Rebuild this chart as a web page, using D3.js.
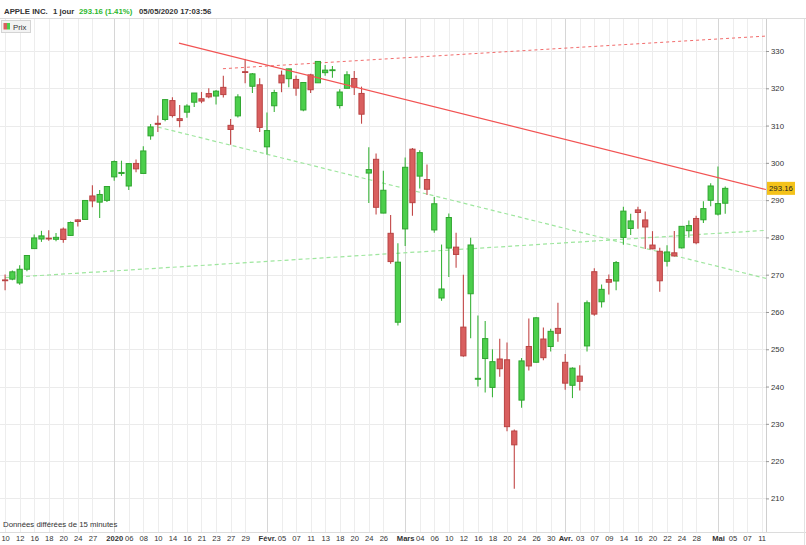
<!DOCTYPE html>
<html><head><meta charset="utf-8">
<script src="https://cdn.jsdelivr.net/npm/d3@7"></script>
<style>body{margin:0;background:#fff}svg{display:block;font-family:"Liberation Sans",Arial,sans-serif}</style>
</head><body><svg id="c" width="806" height="545"></svg>
<script>
// Trading days (last four are future, empty slots)
const dates = [
"2019-12-10","2019-12-11","2019-12-12","2019-12-13","2019-12-16","2019-12-17","2019-12-18","2019-12-19","2019-12-20","2019-12-23","2019-12-24","2019-12-26","2019-12-27","2019-12-30","2019-12-31",
"2020-01-02","2020-01-03","2020-01-06","2020-01-07","2020-01-08","2020-01-09","2020-01-10","2020-01-13","2020-01-14","2020-01-15","2020-01-16","2020-01-17","2020-01-21","2020-01-22","2020-01-23","2020-01-24","2020-01-27","2020-01-28","2020-01-29","2020-01-30","2020-01-31",
"2020-02-03","2020-02-04","2020-02-05","2020-02-06","2020-02-07","2020-02-10","2020-02-11","2020-02-12","2020-02-13","2020-02-14","2020-02-18","2020-02-19","2020-02-20","2020-02-21","2020-02-24","2020-02-25","2020-02-26","2020-02-27","2020-02-28",
"2020-03-02","2020-03-03","2020-03-04","2020-03-05","2020-03-06","2020-03-09","2020-03-10","2020-03-11","2020-03-12","2020-03-13","2020-03-16","2020-03-17","2020-03-18","2020-03-19","2020-03-20","2020-03-23","2020-03-24","2020-03-25","2020-03-26","2020-03-27","2020-03-30","2020-03-31",
"2020-04-01","2020-04-02","2020-04-03","2020-04-06","2020-04-07","2020-04-08","2020-04-09","2020-04-13","2020-04-14","2020-04-15","2020-04-16","2020-04-17","2020-04-20","2020-04-21","2020-04-22","2020-04-23","2020-04-24","2020-04-27","2020-04-28","2020-04-29","2020-04-30",
"2020-05-01","2020-05-04","2020-05-05","2020-05-06","2020-05-07","2020-05-08","2020-05-11"];

const openP = [268.60,268.81,267.78,271.46,277.00,279.57,279.80,279.50,282.23,280.53,284.69,284.82,291.12,289.46,289.93,
296.24,297.15,293.79,299.84,297.16,307.24,310.60,311.64,316.70,311.85,313.59,316.27,317.19,318.58,317.92,320.25,310.06,312.60,324.45,320.54,320.93,
304.30,315.31,323.52,322.57,322.37,314.18,323.60,321.47,324.19,324.74,315.36,320.00,322.63,318.62,297.26,300.95,286.53,281.10,257.26,
282.28,303.67,296.44,295.52,282.00,263.75,277.14,277.39,255.94,264.89,241.95,247.51,239.77,247.39,247.18,228.08,236.36,250.75,246.52,252.75,250.74,255.60,
246.50,240.34,242.80,250.90,270.80,262.74,268.70,268.31,280.00,282.40,287.38,284.69,277.95,276.28,273.61,275.87,277.20,281.80,285.08,284.73,289.96,
286.25,289.17];
const highP = [270.07,271.10,272.56,275.30,280.79,281.77,281.90,281.18,282.65,284.25,284.89,289.98,293.97,292.69,293.68,
300.60,300.58,299.96,300.90,304.44,310.43,312.67,317.07,317.57,315.50,315.70,318.74,319.02,319.99,319.56,323.33,311.77,318.40,327.85,324.09,322.68,
313.49,319.64,324.76,325.22,323.40,321.55,323.90,327.22,326.22,325.98,319.75,324.57,324.65,320.45,304.18,302.53,297.88,286.00,278.41,
301.44,304.00,303.40,299.55,290.82,278.09,286.44,281.22,270.00,279.92,259.08,257.61,250.00,252.84,251.83,228.50,247.69,258.25,258.68,255.87,255.52,262.49,
248.72,245.15,245.70,263.11,271.70,267.37,270.07,273.70,288.25,286.33,288.20,286.95,281.68,277.25,277.90,281.75,283.01,284.54,285.83,289.67,294.53,
299.00,293.69];
const lowP = [265.86,268.50,267.32,270.93,276.98,278.80,279.12,278.95,278.56,280.37,282.92,284.70,288.12,285.22,289.52,
295.19,296.50,292.75,297.48,297.16,306.20,308.25,311.15,312.17,309.55,312.09,315.00,316.00,317.31,315.65,317.52,304.88,312.19,321.38,318.75,308.29,
302.22,313.63,318.95,320.26,318.00,313.85,318.71,321.47,323.35,322.85,314.61,320.00,318.21,310.50,289.23,286.13,286.50,272.96,256.37,
277.72,285.80,293.13,291.41,281.23,263.00,269.37,271.86,248.00,252.95,240.00,238.40,237.12,242.61,228.00,212.61,234.30,244.30,246.36,247.05,249.40,252.00,
239.13,236.90,238.97,249.38,259.00,261.23,264.70,265.83,278.05,280.63,282.35,276.86,276.85,265.43,272.20,274.87,277.00,279.95,278.20,283.89,288.35,
285.85,286.32];
const closeP = [268.48,270.77,271.46,275.15,279.86,280.41,279.74,280.02,279.44,284.00,284.27,289.91,289.80,291.52,293.65,
300.35,297.43,299.80,298.39,303.19,309.63,310.33,316.96,312.68,311.34,315.24,318.73,316.57,317.70,319.23,318.31,308.95,317.69,324.34,323.87,309.51,
308.66,318.85,321.45,325.21,320.03,321.55,319.61,327.20,324.87,324.95,319.00,323.62,320.30,313.05,298.18,288.08,292.65,273.52,273.36,
298.81,289.32,302.74,292.92,289.03,266.17,285.34,275.43,248.23,277.97,242.21,252.86,246.67,244.78,229.24,224.37,246.88,245.52,258.44,247.74,254.81,254.29,
240.91,244.93,241.41,262.47,259.43,266.07,267.99,273.25,287.05,284.43,286.69,282.80,276.93,268.37,276.10,275.03,282.97,283.17,278.58,287.73,293.80,
289.07,293.16];

const yTicks = [210,220,230,240,250,260,270,280,290,300,310,320,330];
const tickDates = ["2019-12-10","2019-12-12","2019-12-16","2019-12-18","2019-12-20","2019-12-24","2019-12-27","2020-01-02","2020-01-06","2020-01-08","2020-01-10","2020-01-14","2020-01-16","2020-01-21","2020-01-23","2020-01-27","2020-01-29",
"2020-02-03","2020-02-05","2020-02-07","2020-02-11","2020-02-13","2020-02-18","2020-02-20","2020-02-24","2020-02-26",
"2020-03-02","2020-03-04","2020-03-06","2020-03-10","2020-03-12","2020-03-16","2020-03-18","2020-03-20","2020-03-24","2020-03-26","2020-03-30",
"2020-04-01","2020-04-03","2020-04-07","2020-04-09","2020-04-14","2020-04-16","2020-04-20","2020-04-22","2020-04-24","2020-04-28",
"2020-05-01","2020-05-05","2020-05-07","2020-05-11"];
const tickTexts = ["10","12","16","18","20","24","27","2020","06","08","10","14","16","21","23","27","29",
"Févr.","05","07","11","13","18","20","24","26",
"Mars","04","06","10","12","16","18","20","24","26","30",
"Avr.","03","07","09","14","16","20","22","24","28",
"Mai","05","07","11"];
const monthTicks = ["2020-01-02","2020-02-03","2020-03-02","2020-04-01","2020-05-01"];

// trend lines: [trading-day index, price]
const resistance = [[23.9,332.1],[104.6,292.85]];
const resistanceDash = [[29.95,325.25],[104.6,334.0]];
const supportUp = [[0,269.2],[104.6,281.9]];
const supportDown = [[21.0,309.6],[104.6,269.0]];

const lastPrice = 293.16;

const svg = d3.select("#c");
const font = '"Liberation Sans",Arial,sans-serif';
const P = {left:0,right:766,top:19,bottom:532};

const x = d3.scalePoint().domain(dates).range([5.1,761.6]);
const xi = d3.scaleLinear().domain([0,dates.length-1]).range([5.1,761.6]);
const y = d3.scaleLinear().domain([210,330]).range([498.4,51]);

svg.append("defs").append("clipPath").attr("id","clip")
  .append("rect").attr("x",P.left).attr("y",P.top).attr("width",P.right-P.left).attr("height",P.bottom-P.top);

// header
svg.append("rect").attr("x",0).attr("y",0).attr("width",806).attr("height",545).attr("fill","#fff");
svg.append("line").attr("x1",0).attr("x2",806).attr("y1",18.5).attr("y2",18.5).attr("stroke","#dcdcdc");
const hdr = svg.append("g").attr("font-family",font).attr("font-size",7.8).attr("font-weight","bold");
hdr.append("text").attr("x",4).attr("y",14).attr("fill","#333").text("APPLE INC.");
hdr.append("text").attr("x",53).attr("y",14).attr("fill","#333").text("1 jour");
hdr.append("text").attr("x",79).attr("y",14).attr("fill","#2eb82e").text("293.16 (1.41%)");
hdr.append("text").attr("x",139).attr("y",14).attr("fill","#333").text("05/05/2020 17:03:56");

// grid
const grid = svg.append("g");
grid.selectAll("line.h").data(yTicks).join("line")
  .attr("x1",P.left).attr("x2",P.right).attr("y1",d=>Math.round(y(d))+0.5).attr("y2",d=>Math.round(y(d))+0.5)
  .attr("stroke","#ebebeb");
grid.selectAll("line.v").data(tickDates).join("line")
  .attr("x1",d=>Math.round(x(d))+0.5).attr("x2",d=>Math.round(x(d))+0.5).attr("y1",P.top).attr("y2",P.bottom)
  .attr("stroke",d=>monthTicks.includes(d)?"#d6d6d6":"#ededed");

// trend lines
const g = svg.append("g").attr("clip-path","url(#clip)");
const ln = d3.line().x(d=>xi(d[0])).y(d=>y(d[1]));
g.append("path").attr("d",ln(supportUp)).attr("fill","none").attr("stroke","#9ee69e").attr("stroke-width",1.2).attr("stroke-dasharray","4,3");
g.append("path").attr("d",ln(supportDown)).attr("fill","none").attr("stroke","#9ee69e").attr("stroke-width",1.2).attr("stroke-dasharray","4,3");
g.append("path").attr("d",ln(resistanceDash)).attr("fill","none").attr("stroke","#f26b6b").attr("stroke-width",1).attr("stroke-dasharray","3,3");

// candles
const candles = dates.slice(0, closeP.length).map((d,i)=>({d,o:openP[i],h:highP[i],l:lowP[i],c:closeP[i]}));
const cg = g.selectAll("g.c").data(candles).join("g");
const up = d=>d.c>=d.o;
cg.append("line").attr("x1",d=>x(d.d)).attr("x2",d=>x(d.d)).attr("y1",d=>y(d.h)).attr("y2",d=>y(d.l))
  .attr("stroke",d=>up(d)?"#3cb43c":"#c24848").attr("stroke-width",1.1);
cg.append("rect").attr("x",d=>x(d.d)-2.6).attr("width",5.2)
  .attr("y",d=>y(Math.max(d.o,d.c))).attr("height",d=>Math.max(0.8,Math.abs(y(d.o)-y(d.c))))
  .attr("fill",d=>up(d)?"#4ccf4c":"#d95f5f").attr("stroke",d=>up(d)?"#2fa52f":"#b94343").attr("stroke-width",1);

g.append("path").attr("d",ln(resistance)).attr("fill","none").attr("stroke","#f25252").attr("stroke-width",1.2);

// frame lines
svg.append("line").attr("x1",P.right+0.5).attr("x2",P.right+0.5).attr("y1",P.top).attr("y2",P.bottom).attr("stroke","#cfcfcf");
svg.append("line").attr("x1",0).attr("x2",806).attr("y1",P.bottom+0.5).attr("y2",P.bottom+0.5).attr("stroke","#dcdcdc");
svg.append("line").attr("x1",804.5).attr("x2",804.5).attr("y1",P.top).attr("y2",545).attr("stroke","#e2e2e2");

// y axis
const ya = svg.append("g").attr("transform",`translate(${P.right},0)`)
  .call(d3.axisRight(y).tickValues(yTicks).tickSize(3).tickPadding(2).tickFormat(d3.format("d")));
ya.select(".domain").remove();
ya.selectAll("line").attr("stroke","#999");
ya.selectAll("text").attr("font-family",font).attr("font-size",7.8).attr("fill","#333");

// x axis
const labelOf = new Map(tickDates.map((d,i)=>[d,tickTexts[i]]));
const xa = svg.append("g").attr("transform",`translate(0,${P.bottom})`)
  .call(d3.axisBottom(x).tickValues(tickDates).tickSize(0).tickPadding(4).tickFormat(d=>labelOf.get(d)));
xa.select(".domain").remove();
xa.selectAll("text").attr("font-family",font).attr("font-size",7.6).attr("fill","#333")
  .attr("font-weight",d=>monthTicks.includes(d)?"bold":"normal");

// last price label
const lp = svg.append("g");
lp.append("rect").attr("x",P.right+1).attr("y",y(lastPrice)-6.5).attr("width",28).attr("height",13).attr("fill","#f4c21a");
lp.append("text").attr("x",P.right+3).attr("y",y(lastPrice)+3).attr("font-family",font).attr("font-size",7.8).attr("fill","#222").text(lastPrice.toFixed(2));

// legend
const lg = svg.append("g");
lg.append("rect").attr("x",1.5).attr("y",20.5).attr("width",29).attr("height",12).attr("fill","#f3f3f3").attr("stroke","#d4d4d4");
lg.append("rect").attr("x",3.5).attr("y",23).attr("width",3.5).attr("height",6.5).attr("fill","#d95f5f");
lg.append("rect").attr("x",7).attr("y",23).attr("width",3).attr("height",6.5).attr("fill","#4ccf4c");
lg.append("text").attr("x",13).attr("y",30).attr("font-family",font).attr("font-size",7.8).attr("fill","#333").text("Prix");

// footnote
svg.append("text").attr("x",3).attr("y",527).attr("font-family",font).attr("font-size",7.8).attr("fill","#333")
  .text("Données différées de 15 minutes");
</script></body></html>
